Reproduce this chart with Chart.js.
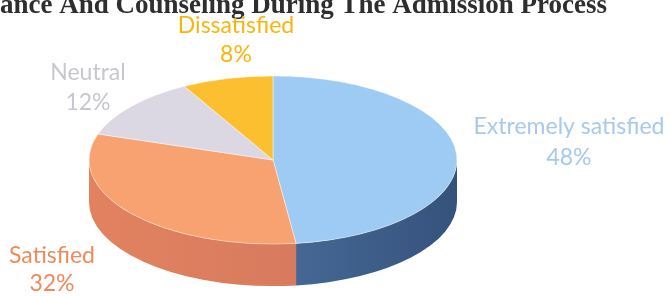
<!DOCTYPE html>
<html>
<head>
<meta charset="utf-8">
<script src="https://cdn.jsdelivr.net/npm/chart.js@4.4.0/dist/chart.umd.min.js"></script>
<style>
  html, body { margin: 0; padding: 0; background: #fff; overflow: hidden; }
  canvas { display: block; }
</style>
</head>
<body>
<canvas id="myChart" width="670" height="296"></canvas>
<script>
// data
const categories = ['Extremely satisfied', 'Satisfied', 'Neutral', 'Dissatisfied'];
const shares = [48, 32, 12, 8];
const pctLabels = ['48%', '32%', '12%', '8%'];
const titleText = 'ance And Counseling During The Admission Process';

// styles
const topColors = ['#9dcbf3', '#f8a171', '#dbd7e3', '#fbbf30'];
const sideColors = [['#5a82b4', '#35527c'], ['#e2825f', '#cf745e'], ['#b9b5c4', '#a9a5b5'], ['#e0a020', '#c88e18']];
const labelColors = ['#a6c9ec', '#ef8a5a', '#c8c6cf', '#f6b60c'];
// label centre x and the baselines of its two lines
const labelSpots = [[569, 134, 165], [52, 263, 291], [88, 80, 110], [236, 33, 62]];

const RADIUS = 184;    // horizontal radius of the pie
const TILT = 0.457;    // vertical squash of the pie top
const CENTER_Y = 160;  // screen y of pie centre
const DEPTH = 42;      // screen thickness of the pie

//3d pie: squash the top face and draw the side wall first
const pie3d = {
    id: 'pie3d',
    beforeDatasetsDraw(chart) {
        const ctx = chart.ctx;
        const arcs = chart.getDatasetMeta(0).data;
        const cx = arcs[0].x, cy = arcs[0].y;
        ctx.save();
        ctx.translate(0, CENTER_Y);
        ctx.scale(1, TILT);
        ctx.translate(0, -cy);
        const d = DEPTH / TILT;
        arcs.forEach((arc, i) => {
            const p = arc.getProps(['startAngle', 'endAngle', 'outerRadius']);
            const r = p.outerRadius;
            const grad = ctx.createLinearGradient(cx - r, 0, cx + r, 0);
            grad.addColorStop(0, sideColors[i][0]);
            grad.addColorStop(1, sideColors[i][1]);
            // only the front half (0..PI) of the wall shows
            [-2 * Math.PI, 0, 2 * Math.PI].forEach(k => {
                const a = Math.max(p.startAngle, k);
                const b = Math.min(p.endAngle, k + Math.PI);
                if (b <= a) return;
                ctx.beginPath();
                ctx.arc(cx, cy, r, a, b);
                ctx.arc(cx, cy + d, r, b, a, true);
                ctx.closePath();
                ctx.fillStyle = grad;
                ctx.fill();
            });
        });
    },
    afterDatasetsDraw(chart) {
        chart.ctx.restore();
    }
};

// title and outside labels
const pieLabels = {
    id: 'pieLabels',
    afterDraw(chart) {
        const ctx = chart.ctx;
        ctx.save();
        ctx.textAlign = 'left';
        ctx.textBaseline = 'alphabetic';
        ctx.font = 'bold 27px "Liberation Serif", "Times New Roman", serif';
        ctx.fillStyle = '#2e2e2e';
        ctx.fillText(titleText, 0, 13);

        ctx.textAlign = 'center';
        ctx.font = '23px Lato, "Open Sans", sans-serif';
        categories.forEach((name, i) => {
            const s = labelSpots[i];
            ctx.fillStyle = labelColors[i];
            ctx.fillText(name, s[0], s[1]);
            ctx.fillText(pctLabels[i], s[0], s[2]);
        });
        ctx.restore();
    }
};

const ctx = document.getElementById('myChart').getContext('2d');
const myChart = new Chart(ctx, {
    type: 'pie',
    data: {
        labels: categories,
        datasets: [{
            data: shares,
            backgroundColor: topColors,
            borderColor: 'rgba(255,255,255,0.6)',
            borderWidth: 1,
            radius: RADIUS
        }]
    },
    options: {
        responsive: false,
        animation: false,
        events: [],
        layout: { padding: { left: 89, right: 213, top: 0, bottom: 0 } },
        plugins: {
            legend: { display: false },
            tooltip: { enabled: false },
            title: { display: false }
        }
    },
    plugins: [pie3d, pieLabels]
});
</script>
</body>
</html>
